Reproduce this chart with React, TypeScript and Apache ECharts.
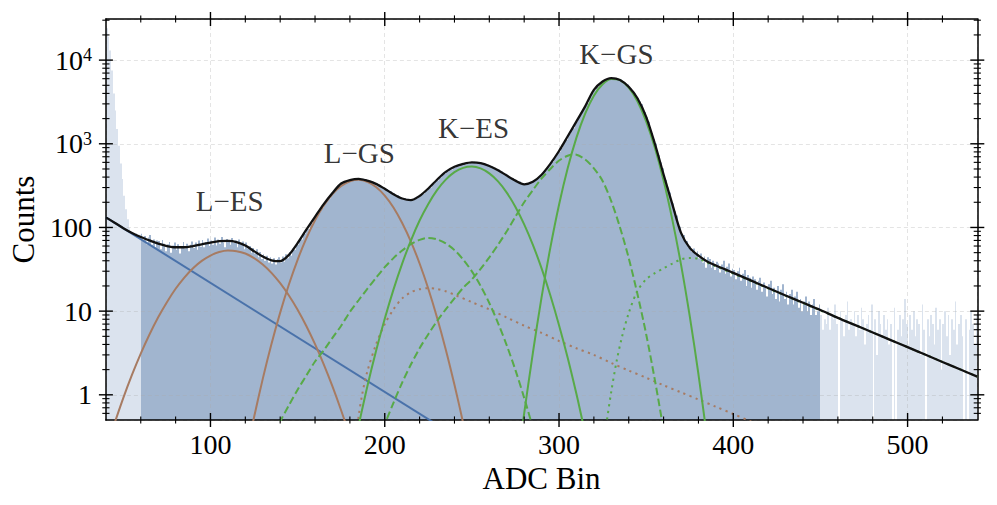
import React, { useEffect, useRef } from 'react';
import * as echarts from 'echarts';

// ---------- axis ranges ----------
const X_MIN = 40;
const X_MAX = 540;
const Y_MIN = 0.5;
const Y_MAX = 31000;
const FIT_START = 60;
const FIT_END = 450;
const BIN_START = 40;

// ---------- histogram counts (1 ADC bin each) ----------
// bins 40..59 (outside fit range)
const countsLowTail = [24000, 19000, 13000, 7500, 4000, 2500, 1500, 950, 580, 380, 240, 165, 125, 98, 88, 84, 80, 86, 78, 82];
// bins 60..449 (fit range)
const countsFitRange = [
  84, 70, 79, 63, 76, 81, 62, 72, 58, 70,
  69, 55, 71, 64, 52, 63, 67, 50, 61, 66,
  54, 63, 49, 60, 67, 56, 64, 52, 62, 68,
  57, 66, 54, 70, 59, 71, 58, 67, 74, 60,
  70, 62, 76, 61, 72, 64, 77, 66, 58, 73,
  71, 62, 75, 65, 70, 58, 72, 63, 68, 55,
  66, 56, 60, 50, 57, 49, 55, 44, 51, 42,
  48, 40, 46, 38, 44, 37, 43, 36, 42, 44,
  38, 45, 39, 48, 43, 51, 46, 56, 54, 64,
  62, 73, 72, 85, 84, 97, 96, 113, 111, 129,
  130, 150, 149, 171, 172, 196, 197, 222, 224, 250,
  252, 279, 281, 310, 314, 342, 336, 356, 349, 369,
  362, 378, 366, 384, 371, 388, 370, 381, 362, 374,
  355, 363, 344, 351, 332, 339, 317, 321, 301, 304,
  284, 288, 268, 271, 252, 256, 239, 243, 228, 232,
  217, 225, 214, 221, 209, 217, 212, 227, 222, 238,
  233, 254, 253, 276, 275, 299, 300, 328, 330, 362,
  365, 396, 397, 431, 434, 471, 466, 498, 494, 526,
  522, 548, 539, 566, 557, 584, 571, 595, 582, 606,
  592, 609, 587, 604, 582, 599, 570, 580, 552, 561,
  534, 540, 511, 516, 488, 492, 463, 465, 436, 437,
  410, 413, 389, 391, 367, 369, 350, 354, 336, 340,
  323, 338, 332, 348, 342, 358, 361, 386, 389, 418,
  421, 460, 474, 518, 533, 584, 609, 675, 704, 776,
  810, 899, 951, 1053, 1120, 1244, 1316, 1450, 1534, 1692,
  1832, 2055, 2203, 2456, 2584, 2828, 3050, 3420, 3695, 4090,
  4360, 4675, 4825, 5150, 5280, 5600, 5610, 5830, 5840, 6050,
  6050, 6150, 6010, 6030, 5840, 5850, 5560, 5460, 5150, 5100,
  4760, 4590, 4210, 3990, 3690, 3530, 3200, 2980, 2635, 2400,
  2080, 1840, 1545, 1345, 1140, 1010, 842, 728, 598, 511,
  425, 370, 301, 262, 216, 194, 156, 139, 111, 102,
  83, 81, 67, 69, 57, 60, 51, 56, 47, 52,
  43, 49, 38, 45, 33, 44, 42, 33, 40, 31,
  39, 37, 29, 36, 40, 28, 34, 37, 26, 32,
  31, 24, 30, 33, 23, 28, 31, 20, 27, 25,
  19, 26, 24, 18, 23, 25, 17, 22, 19, 15,
  21, 23, 16, 19, 14, 20, 13, 18, 21, 14,
  17, 12, 16, 18, 12, 15, 17, 11, 14, 10,
  13, 15, 10, 13, 9, 12, 14, 9, 10, 12,
];
// bins 450..539 (outside fit range)
const countsHighTail = [
  9, 6, 8, 7, 11, 6, 9, 8, 12, 7,
  0, 10, 8, 5, 9, 13, 6, 8, 7, 10,
  5, 9, 6, 11, 8, 4, 7, 9, 6, 12,
  0, 8, 3, 10, 7, 5, 9, 6, 8, 4,
  7, 0, 11, 0, 6, 9, 5, 8, 14, 7,
  4, 9, 6, 10, 5, 8, 7, 3, 12, 6,
  0, 8, 5, 9, 7, 4, 11, 6, 8, 2,
  7, 10, 5, 9, 3, 8, 6, 13, 4, 7,
  9, 5, 0, 8, 0, 6, 10, 7, 4, 9,
];

// ---------- fitted curves [ADC bin, counts] ----------
const totalFit: [number, number][] = [
  [40, 132], [45, 114], [50, 98], [55, 86], [60, 77], [65, 70], [70, 64], [75, 60], [80, 58], [85, 58],
  [90, 60], [95, 63], [100, 66], [105, 68.5], [110, 69], [115, 67], [120, 61], [125, 52], [130, 45], [135, 40.5],
  [140, 39.5], [145, 47], [150, 65], [155, 94], [160, 134], [165, 190], [170, 258], [175, 335], [180, 368], [185, 381],
  [190, 362], [195, 332], [200, 290], [205, 250], [210, 222], [215, 212], [220, 238], [225, 292], [230, 372], [235, 462],
  [240, 531], [245, 575], [250, 601], [255, 589], [260, 543], [265, 484], [270, 417], [275, 363], [280, 328], [285, 352],
  [290, 427], [295, 575], [300, 820], [305, 1230], [310, 1850], [315, 2800], [320, 4400], [325, 5550], [330, 6100], [335, 5800],
  [340, 4800], [345, 3500], [350, 2100], [355, 1000], [360, 430], [365, 190], [370, 86], [375, 57], [380, 46], [385, 39.3],
  [390, 35.1], [395, 31.8], [400, 28.7], [410, 23.3], [420, 18.9], [430, 15.4], [440, 12.6], [450, 10.3], [460, 8.3], [470, 6.8],
  [480, 5.56], [490, 4.54], [500, 3.71], [510, 3.03], [520, 2.47], [530, 2.02], [540, 1.65],
];
const background: [number, number][] = [[40, 132], [230, 0.44]];
const lEscape: [number, number][] = [
  [42, 0.3], [45, 0.46], [50, 0.92], [55, 1.74], [60, 3.11], [65, 5.26], [70, 8.45], [75, 12.8], [80, 18.5], [85, 25.2],
  [90, 32.6], [95, 39.9], [100, 46.2], [105, 50.8], [110, 52.9], [115, 52.1], [120, 48.8], [125, 43.1], [130, 36.1], [135, 28.7],
  [140, 21.6], [145, 15.4], [150, 10.4], [155, 6.65], [160, 4.03], [165, 2.31], [170, 1.26], [175, 0.65], [180, 0.32],
];
const lGround: [number, number][] = [
  [122, 0.28], [125, 0.54], [130, 1.55], [135, 4.05], [140, 9.6], [145, 20.8], [150, 41.1], [155, 74.1], [160, 122], [165, 183],
  [170, 251], [175, 313], [180, 356], [185, 371], [190, 351], [195, 304], [200, 240], [205, 173], [210, 113], [215, 67.9],
  [220, 37.1], [225, 18.5], [230, 8.4], [235, 3.49], [240, 1.32], [245, 0.46], [248, 0.23],
];
const lTail: [number, number][] = [
  [183.5, 0.3], [185, 0.55], [187, 1.0], [190, 1.9], [195, 4.0], [200, 7.0], [205, 10.5], [210, 14.2], [215, 16.8], [220, 18.3],
  [225, 18.8], [230, 18.4], [235, 17.3], [240, 15.7], [250, 12.8], [260, 10.5], [270, 8.4], [280, 6.7], [290, 5.5], [300, 4.4],
  [310, 3.6], [320, 3.0], [330, 2.4], [340, 1.95], [350, 1.6], [360, 1.3], [370, 1.07], [380, 0.88], [390, 0.72], [400, 0.59],
  [410, 0.48], [415, 0.43],
];
const kEscape: [number, number][] = [
  [183, 0.28], [185, 0.43], [190, 1.26], [195, 3.33], [200, 8.1], [205, 18.1], [210, 37], [215, 69.8], [220, 121], [225, 191],
  [230, 279], [235, 373], [240, 458], [245, 516], [250, 534], [255, 508], [260, 443], [265, 355], [270, 261], [275, 176],
  [280, 109], [285, 62], [290, 32.4], [295, 15.5], [300, 6.8], [305, 2.76], [310, 1.02], [315, 0.35], [318, 0.2],
];
const kGround: [number, number][] = [
  [278, 0.28], [280, 0.6], [285, 3.18], [290, 14.7], [295, 57], [300, 187], [305, 514], [310, 1186], [315, 2300], [320, 3760],
  [325, 5150], [330, 5945], [335, 5760], [340, 4690], [345, 3220], [350, 1850], [355, 895], [360, 364], [365, 124], [370, 36],
  [375, 8.7], [380, 1.76], [385, 0.3],
];
const kEscapeSat: [number, number][] = [
  [137, 0.35], [140, 0.48], [145, 0.75], [150, 1.15], [155, 1.7], [160, 2.5], [165, 3.4], [170, 4.8], [175, 6.7], [180, 9.8],
  [185, 13.5], [190, 18.5], [195, 25], [200, 33.5], [205, 43], [210, 53], [215, 63], [220, 71], [225, 75], [230, 72],
  [235, 64.4], [240, 53.6], [245, 41.4], [250, 29.9], [255, 20], [260, 12.5], [265, 7.2], [270, 3.9], [275, 1.97], [280, 0.92],
  [285, 0.4], [288, 0.22],
];
const kGroundSat: [number, number][] = [
  [196, 0.3], [200, 0.45], [205, 0.8], [210, 1.4], [215, 2.3], [220, 3.6], [225, 5.3], [230, 7.6], [235, 10.5], [240, 14.2],
  [245, 19], [250, 24], [255, 32], [260, 44], [265, 62], [270, 90], [275, 135], [280, 200], [285, 280], [290, 385],
  [295, 500], [300, 630], [305, 720], [308, 745], [310, 740], [315, 650], [320, 510], [325, 360], [330, 205], [335, 100],
  [340, 43], [345, 16], [350, 5.3], [355, 1.5], [360, 0.38],
];
const kTail: [number, number][] = [
  [326, 0.3], [327.5, 0.5], [330, 1.1], [333, 2.5], [336, 4.8], [340, 9.5], [345, 17.5], [350, 24], [355, 28.5], [360, 32.5],
  [365, 37], [370, 41.5], [375, 43.3], [380, 42.2], [385, 38.1], [390, 34.4], [400, 28.1], [420, 18.7], [450, 10.2], [480, 5.56],
  [510, 3.03], [540, 1.65],
];

// ---------- ticks & labels ----------
const xMajorTicks = [100, 200, 300, 400, 500];
const xMinorTicks = [60, 80, 120, 140, 160, 180, 220, 240, 260, 280, 320, 340, 360, 380, 420, 440, 460, 480, 520];
const yMajorTicks = [1, 10, 100, 1000, 10000];
const yMinorTicks = [
  0.6, 0.7, 0.8, 0.9, 2, 3, 4, 5, 6, 7, 8, 9, 20, 30, 40, 50, 60, 70, 80, 90,
  200, 300, 400, 500, 600, 700, 800, 900, 2000, 3000, 4000, 5000, 6000, 7000, 8000, 9000, 20000, 30000,
];
const peakLabels = ['L−ES', 'L−GS', 'K−ES', 'K−GS'];
const peakLabelX = [111, 185.4, 251, 332.9];
const peakLabelY = [205, 774, 1561, 11960];

const FONT = 'Liberation Serif';
const C_DARK = '#a1b5cf';
const C_LIGHT = '#dbe3ee';
const C_BLUE = '#4a72aa';
const C_BROWN = '#a77b62';
const C_GREEN = '#58aa48';

export default function App() {
  const ref = useRef<HTMLDivElement>(null);

  useEffect(() => {
    if (!ref.current) return;
    const chart = echarts.init(ref.current, undefined, { renderer: 'svg' });

    const allCounts = [...countsLowTail, ...countsFitRange, ...countsHighTail];
    const darkBins: number[][] = [];
    const lightBins: number[][] = [];
    allCounts.forEach((c, i) => {
      const x = BIN_START + i;
      if (c <= 0) return;
      if (x >= FIT_START && x < FIT_END) darkBins.push([x, c]);
      else lightBins.push([x, c]);
    });

    const histRender = (color: string) => (params: any, api: any) => {
      const x0 = api.value(0);
      const c = api.value(1);
      const p0 = api.coord([x0, c]);
      const p1 = api.coord([x0 + 1, Y_MIN]);
      const xa = Math.round(p0[0]);
      const xb = Math.round(p1[0]);
      return {
        type: 'rect',
        shape: { x: xa, y: p0[1], width: Math.max(1, xb - xa), height: p1[1] - p0[1] },
        style: { fill: color },
      };
    };

    const tickData: number[][] = [
      ...xMajorTicks.map((v) => [v, Y_MIN, 0]),
      ...xMinorTicks.map((v) => [v, Y_MIN, 1]),
      ...yMajorTicks.map((v) => [X_MIN, v, 2]),
      ...yMinorTicks.map((v) => [X_MIN, v, 3]),
    ];

    const tickRender = (params: any, api: any) => {
      const kind = api.value(2);
      const major = kind === 0 || kind === 2;
      const len = major ? 7 : 3.6;
      const style = { stroke: '#000', lineWidth: major ? 1.4 : 1.1 };
      if (kind < 2) {
        const v = api.value(0);
        const b = api.coord([v, Y_MIN]);
        const t = api.coord([v, Y_MAX]);
        return {
          type: 'group',
          children: [
            { type: 'line', shape: { x1: b[0], y1: b[1] - len, x2: b[0], y2: b[1] + len }, style },
            { type: 'line', shape: { x1: t[0], y1: t[1] - len, x2: t[0], y2: t[1] + len }, style },
          ],
        };
      }
      const v = api.value(1);
      const l = api.coord([X_MIN, v]);
      const r = api.coord([X_MAX, v]);
      return {
        type: 'group',
        children: [
          { type: 'line', shape: { x1: l[0] - len, y1: l[1], x2: l[0] + len, y2: l[1] }, style },
          { type: 'line', shape: { x1: r[0] - len, y1: r[1], x2: r[0] + len, y2: r[1] }, style },
        ],
      };
    };

    const curve = (data: [number, number][], color: string, type: any, width = 2, z = 4) => ({
      type: 'line',
      data,
      symbol: 'none',
      showSymbol: false,
      smooth: 0.3,
      clip: true,
      silent: true,
      z,
      lineStyle: { color, width, type, cap: 'butt' },
    });

    const axisLine = { show: true, onZero: false, lineStyle: { color: '#000', width: 1.5 } };
    const gridLine = { show: true, lineStyle: { color: 'rgba(170,170,170,0.4)', type: [4, 3], width: 0.8 } };

    const option = {
      animation: false,
      backgroundColor: '#fff',
      grid: { left: 101.7, right: 19.7, top: 19, bottom: 85, containLabel: false },
      xAxis: [
        {
          type: 'value',
          min: X_MIN,
          max: X_MAX,
          position: 'bottom',
          z: 3,
          name: 'ADC Bin',
          nameLocation: 'middle',
          nameGap: 41,
          nameTextStyle: { fontSize: 31, fontFamily: FONT, color: '#000' },
          axisLine,
          axisTick: { show: false },
          axisLabel: { fontSize: 28, fontFamily: FONT, color: '#000', margin: 10, showMinLabel: false, showMaxLabel: false },
          splitLine: gridLine,
        },
        {
          type: 'value',
          min: X_MIN,
          max: X_MAX,
          position: 'top',
          z: 3,
          axisLine,
          axisTick: { show: false },
          axisLabel: { show: false },
          splitLine: { show: false },
        },
      ],
      yAxis: [
        {
          type: 'log',
          logBase: 10,
          min: Y_MIN,
          max: Y_MAX,
          position: 'left',
          z: 3,
          name: 'Counts',
          nameLocation: 'middle',
          nameGap: 62,
          nameRotate: 90,
          nameTextStyle: { fontSize: 31, fontFamily: FONT, color: '#000' },
          axisLine,
          axisTick: { show: false },
          axisLabel: {
            margin: 14,
            showMinLabel: false,
            showMaxLabel: false,
            fontSize: 28,
            fontFamily: FONT,
            color: '#000',
            formatter: (v: number) => {
              const lg = Math.log10(v);
              const e = Math.round(lg);
              if (Math.abs(lg - e) > 1e-6) return '';
              return e < 3 ? `{n|${Math.round(v)}}` : `{n|10}{s|${e}}`;
            },
            rich: {
              n: { fontSize: 28, fontFamily: FONT, color: '#000' },
              s: { fontSize: 18, fontFamily: FONT, color: '#000', verticalAlign: 'top' },
            },
          },
          splitLine: gridLine,
        },
        {
          type: 'log',
          logBase: 10,
          min: Y_MIN,
          max: Y_MAX,
          position: 'right',
          z: 3,
          axisLine,
          axisTick: { show: false },
          axisLabel: { show: false },
          splitLine: { show: false },
        },
      ],
      series: [
        { type: 'custom', data: lightBins, renderItem: histRender(C_LIGHT), z: 1, silent: true, encode: { x: 0, y: 1 } },
        { type: 'custom', data: darkBins, renderItem: histRender(C_DARK), z: 1, silent: true, encode: { x: 0, y: 1 } },
        curve(background, C_BLUE, 'solid'),
        curve(lEscape, C_BROWN, 'solid'),
        curve(lGround, C_BROWN, 'solid'),
        curve(lTail, C_BROWN, [2.2, 4.3]),
        curve(kEscapeSat, C_GREEN, [7.5, 3.5]),
        curve(kGroundSat, C_GREEN, [7.5, 3.5]),
        curve(kEscape, C_GREEN, 'solid'),
        curve(kGround, C_GREEN, 'solid'),
        curve(kTail, C_GREEN, [2.2, 4.3]),
        curve(totalFit, '#111111', 'solid', 2.3, 5),
        {
          type: 'scatter',
          data: peakLabels.map((n, i) => ({ name: n, value: [peakLabelX[i], peakLabelY[i]] })),
          symbolSize: 1,
          itemStyle: { color: 'rgba(0,0,0,0)' },
          silent: true,
          z: 6,
          label: { show: true, position: 'inside', formatter: '{b}', fontSize: 29, fontFamily: FONT, color: '#000' },
        },
        { type: 'custom', data: tickData, renderItem: tickRender, z: 7, silent: true, clip: false, encode: { x: 0, y: 1 } },
      ],
    };

    chart.setOption(option as any);
    return () => chart.dispose();
  }, []);

  return (
    <div
      ref={ref}
      style={{ position: 'fixed', left: 0, top: 0, width: 997, height: 505, background: '#fff' }}
    />
  );
}
